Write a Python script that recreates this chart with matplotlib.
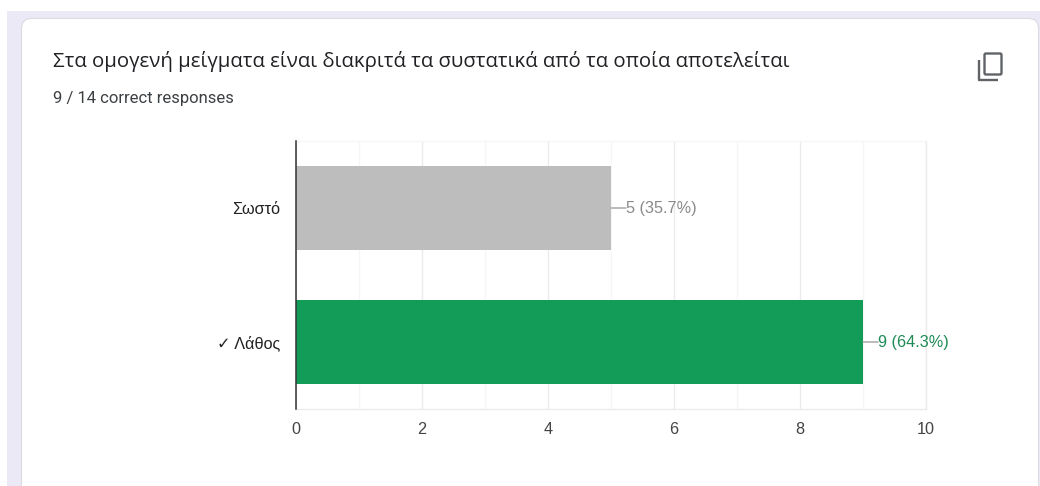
import matplotlib
matplotlib.use("Agg")
import matplotlib.pyplot as plt
from matplotlib.patches import FancyBboxPatch, Rectangle

categories = ["Σωστό", "✓ Λάθος"]
counts = [5, 9]
shares = ["35.7%", "64.3%"]
bar_colors = ["#bdbdbd", "#129c57"]
label_colors = ["#8a8a8a", "#1e8a55"]
x_ticks = [0, 2, 4, 6, 8, 10]
x_minor = [1, 3, 5, 7, 9]
title = "Στα ομογενή μείγματα είναι διακριτά τα συστατικά από τα οποία αποτελείται"
subtitle = "9 / 14 correct responses"

W, H = 1040, 486
fig = plt.figure(figsize=(W / 100, H / 100), dpi=100, facecolor="white")

# Page backdrop and the rounded response card, in pixel coordinates
bg = fig.add_axes([0, 0, 1, 1], zorder=0)
bg.set_xlim(0, W)
bg.set_ylim(H, 0)
bg.axis("off")
bg.add_patch(Rectangle((7, 11), W - 7, H - 11, fc="#ece9f7", ec="none"))
bg.add_patch(FancyBboxPatch((21.5, 18.5), 1017, 500,
                            boxstyle="round,pad=0,rounding_size=10",
                            fc="white", ec="#dadce0", lw=0.8))
bg.text(53, 61, title, fontsize=14.7, family="Open Sans", color="#202124",
        va="center", ha="left")
bg.text(53, 98, subtitle, fontsize=12.0, family="Roboto", color="#3c4043",
        va="center", ha="left")

# Copy-to-clipboard icon
icon = "#5f6368"
bg.add_patch(FancyBboxPatch((984.5, 53.5), 17, 21,
                            boxstyle="round,pad=0,rounding_size=1.5",
                            fc="none", ec=icon, lw=1.7))
bg.plot([979, 979, 998], [60, 80, 80], color=icon, lw=1.7,
        solid_joinstyle="round", solid_capstyle="butt")

# Horizontal bar chart
ax = fig.add_axes([296 / W, 1 - 409 / H, 630 / W, 268 / H], zorder=1)
ax.patch.set_alpha(0)
ypos = list(range(len(categories)))
ax.barh(ypos, counts, height=0.63, color=bar_colors, zorder=3)
ax.set_xlim(0, 10)
ax.set_ylim(1.5, -0.5)
ax.set_yticks(ypos, categories, family=["Liberation Sans", "DejaVu Sans"],
              fontsize=11.7, color="#222222")
ax.set_xticks(x_ticks, [str(t) for t in x_ticks], family="Liberation Sans",
              fontsize=11.7, color="#444444")
ax.set_xticks(x_minor, minor=True)
ax.tick_params(axis="both", which="both", length=0)
ax.tick_params(axis="y", pad=11.5)
ax.tick_params(axis="x", pad=9)
ax.grid(True, axis="x", which="major", color="#ebebeb", lw=1, zorder=1)
ax.grid(True, axis="x", which="minor", color="#f6f6f6", lw=1, zorder=1)
for side in ("right", "top", "bottom"):
    ax.spines[side].set_color("#ebebeb")
    ax.spines[side].set_linewidth(1)
ax.spines["top"].set_color("#f6f6f6")
ax.spines["left"].set_color("#333333")
ax.spines["left"].set_linewidth(1.1)
ax.spines["left"].set_zorder(5)

# Value labels with short leader lines from the bar ends
for y, value, share, color in zip(ypos, counts, shares, label_colors):
    ax.annotate("", xy=(value, y), xytext=(15, 0), textcoords="offset pixels",
                arrowprops=dict(arrowstyle="-", color="#a0a0a0", lw=1,
                                shrinkA=0, shrinkB=0), zorder=4)
    ax.annotate(f"{value} ({share})", xy=(value, y), xytext=(15, 0),
                textcoords="offset pixels", va="center", ha="left",
                family="Liberation Sans", fontsize=11.7, color=color, zorder=4)

fig.savefig("out.png", dpi=100)
